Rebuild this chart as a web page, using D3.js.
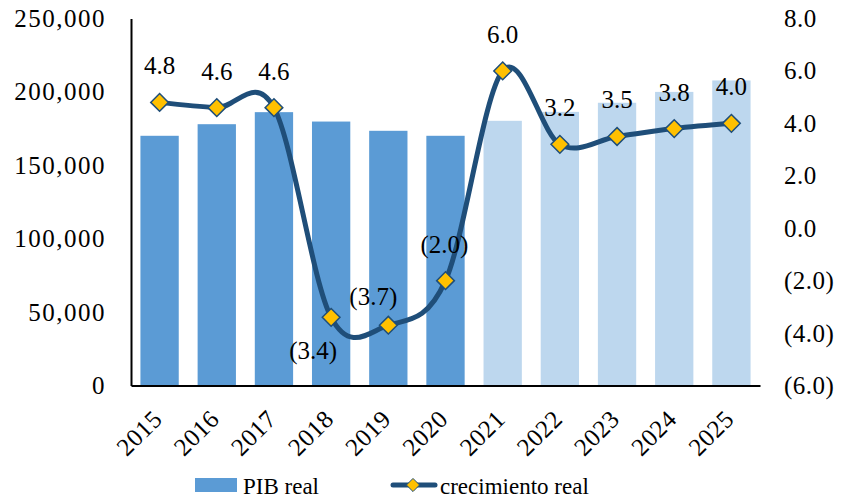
<!DOCTYPE html>
<html>
<head>
<meta charset="utf-8">
<script src="https://cdn.jsdelivr.net/npm/d3@7"></script>
<style>
  body { margin: 0; background: #fff; }
  text { font-family: "Liberation Serif", "Times New Roman", serif; fill: #000; }
</style>
</head>
<body>
<div id="chart"></div>
<script>
// years, real GDP (bars) and real growth % (line)
var years = ["2015","2016","2017","2018","2019","2020","2021","2022","2023","2024","2025"];
var pibReal = [170100, 178000, 186200, 179800, 173500, 170100, 180300, 186400, 192600, 200000, 207800];
var crecimiento = [4.8, 4.6, 4.6, -3.4, -3.7, -2.0, 6.0, 3.2, 3.5, 3.8, 4.0];
var leftTicks = [0, 50000, 100000, 150000, 200000, 250000];
var rightTicks = [-6, -4, -2, 0, 2, 4, 6, 8];
var firstForecast = "2021"; // lighter bars from here on

var W = 842, H = 504;
var m = {left: 131, right: 82, top: 18.5, bottom: 118.5};
var w = W - m.left - m.right, h = H - m.top - m.bottom;

var colBar = "#5b9bd5", colBarLight = "#bdd7ee", colLine = "#1f4e79", colMarker = "#ffc000";
var serif = "Liberation Serif";

var svg = d3.select("#chart").append("svg")
  .attr("width", W).attr("height", H);
var g = svg.append("g").attr("transform", "translate(" + m.left + "," + m.top + ")");

var x = d3.scaleBand().domain(years).range([0, w]).paddingInner(0.33).paddingOuter(0.165);
var yL = d3.scaleLinear().domain([0, 250000]).range([h, 0]);
var yR = d3.scaleLinear().domain([-6, 8]).range([h, 0]);

var fmtL = d3.format(",");
var fmtR = function(v){ return v < 0 ? "(" + d3.format(".1f")(-v) + ")" : d3.format(".1f")(v); };

// bars
g.selectAll(".bar").data(years).enter().append("rect")
  .attr("x", function(d){ return x(d); })
  .attr("y", function(d, i){ return yL(pibReal[i]); })
  .attr("width", x.bandwidth())
  .attr("height", function(d, i){ return h - yL(pibReal[i]); })
  .attr("fill", function(d){ return d >= firstForecast ? colBarLight : colBar; });

// left axis
var axL = g.append("g").call(d3.axisLeft(yL).tickValues(leftTicks).tickFormat(fmtL).tickSize(0).tickPadding(25));
axL.select(".domain").attr("stroke", "#000").attr("stroke-width", 2);
axL.selectAll("text").style("font-size", "25px").style("font-family", serif)
  .style("letter-spacing", "1.5px");

// right axis (labels only)
var axR = g.append("g").attr("transform", "translate(" + w + ",0)")
  .call(d3.axisRight(yR).tickValues(rightTicks).tickFormat(fmtR).tickSize(0).tickPadding(24));
axR.select(".domain").remove();
axR.selectAll("text").style("font-size", "25px").style("font-family", serif)
  .style("letter-spacing", "0.5px");

// bottom axis
var axB = g.append("g").attr("transform", "translate(0," + h + ")")
  .call(d3.axisBottom(x).tickSize(0).tickFormat(function(d){ return d; }));
axB.select(".domain").attr("stroke", "#000").attr("stroke-width", 2);
axB.selectAll("text")
  .style("font-size", "25px").style("font-family", serif)
  .style("letter-spacing", "0.5px")
  .attr("text-anchor", "end")
  .attr("dy", 0).attr("y", 0)
  .attr("transform", "translate(4,35) rotate(-45)");

// growth line (smoothed)
var pts = years.map(function(d, i){ return [x(d) + x.bandwidth()/2, yR(crecimiento[i])]; });
g.append("path")
  .attr("d", d3.line().curve(d3.curveCatmullRom.alpha(0))(pts))
  .attr("fill", "none").attr("stroke", colLine).attr("stroke-width", 5)
  .attr("stroke-linecap", "round");

var diamond = d3.symbol().type(d3.symbolDiamond2).size(200);
g.selectAll(".mk").data(pts).enter().append("path")
  .attr("d", diamond)
  .attr("transform", function(p){ return "translate(" + p[0] + "," + p[1] + ")"; })
  .attr("fill", colMarker).attr("stroke", colLine).attr("stroke-width", 1.5);

// data labels
var nudge = {"2018": [-18, 42], "2019": [-15, -20], "2020": [-1, -28]};
g.selectAll(".lbl").data(years).enter().append("text")
  .attr("x", function(d, i){ return pts[i][0] + (nudge[d] ? nudge[d][0] : 0); })
  .attr("y", function(d, i){ return pts[i][1] + (nudge[d] ? nudge[d][1] : -28); })
  .attr("text-anchor", "middle")
  .style("font-family", serif)
  .style("font-size", "25px")
  .text(function(d, i){ return fmtR(crecimiento[i]); });

// legend
var lg = svg.append("g");
lg.append("rect").attr("x", 195).attr("y", 478).attr("width", 42).attr("height", 14).attr("fill", colBar);
lg.append("text").attr("x", 243).attr("y", 494)
  .style("font-family", serif).style("font-size", "23px").text("PIB real");
lg.append("line").attr("x1", 393).attr("x2", 435).attr("y1", 485).attr("y2", 485)
  .attr("stroke", colLine).attr("stroke-width", 5).attr("stroke-linecap", "round");
lg.append("path").attr("d", d3.symbol().type(d3.symbolDiamond2).size(110))
  .attr("transform", "translate(413,485)")
  .attr("fill", colMarker).attr("stroke", colLine).attr("stroke-width", 1);
lg.append("text").attr("x", 440).attr("y", 494)
  .style("font-family", serif).style("font-size", "23px").text("crecimiento real");
</script>
</body>
</html>
